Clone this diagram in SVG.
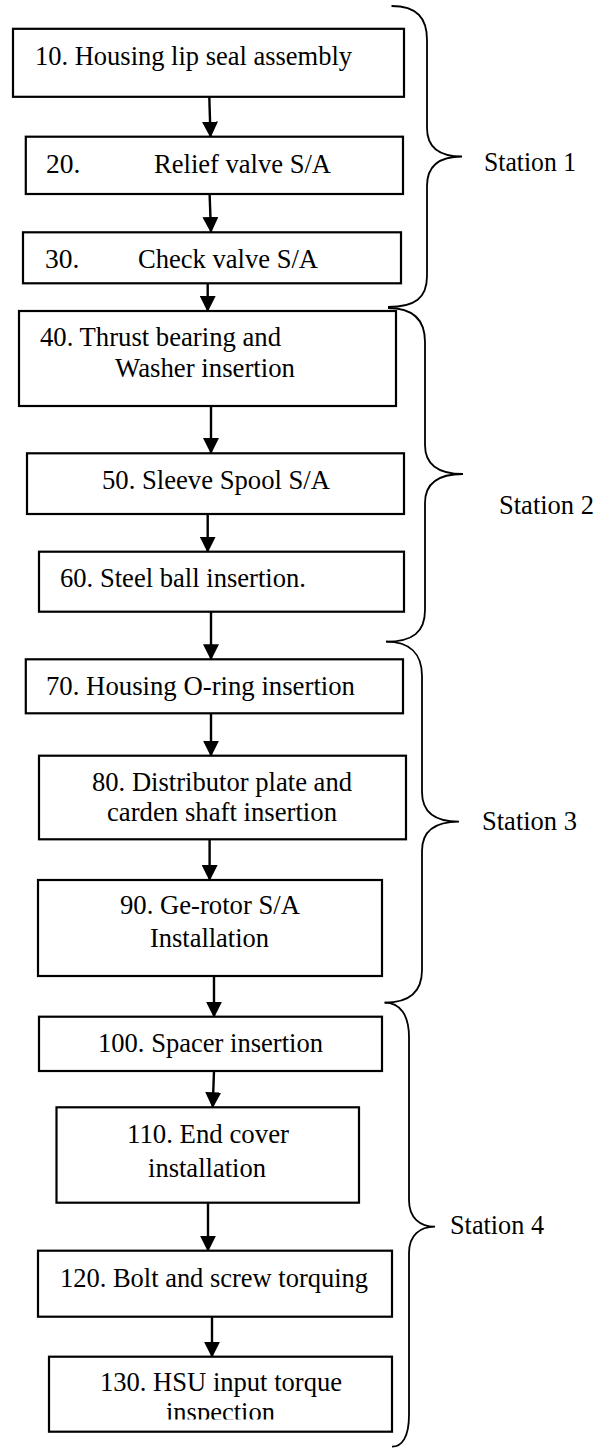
<svg xmlns="http://www.w3.org/2000/svg" width="600" height="1448" viewBox="0 0 600 1448">
<style>
.box{fill:#fff;stroke:#000;stroke-width:2.2}
.t{font-family:"Liberation Serif","Times New Roman",serif;font-size:27.5px;fill:#000}
.c{stroke:#000;stroke-width:2.4;fill:none}
.br{stroke:#000;stroke-width:1.8;fill:none}
</style>
<defs>
<marker id="ah" markerUnits="userSpaceOnUse" markerWidth="16" markerHeight="16" viewBox="0 0 16 16" refX="15" refY="8" orient="auto">
<path d="M0,0 L16,8 L0,16 Z" fill="#000"/>
</marker>
<clipPath id="clip130"><rect x="49" y="1356" width="343" height="63.5"/></clipPath>
</defs>
<rect width="600" height="1448" fill="#fff"/>
<g id="connectors">
<line class="c" x1="209.3" y1="96.7" x2="210.5" y2="136.7" marker-end="url(#ah)"/>
<line class="c" x1="209.6" y1="194" x2="211" y2="232" marker-end="url(#ah)"/>
<line class="c" x1="207.7" y1="283.3" x2="207.7" y2="311" marker-end="url(#ah)"/>
<line class="c" x1="211" y1="406" x2="211" y2="453" marker-end="url(#ah)"/>
<line class="c" x1="207.7" y1="514" x2="207.7" y2="551.7" marker-end="url(#ah)"/>
<line class="c" x1="211" y1="611.7" x2="211" y2="659.3" marker-end="url(#ah)"/>
<line class="c" x1="211" y1="713.3" x2="211" y2="755.7" marker-end="url(#ah)"/>
<line class="c" x1="209.6" y1="839.3" x2="209.6" y2="880" marker-end="url(#ah)"/>
<line class="c" x1="214" y1="976" x2="214" y2="1016.7" marker-end="url(#ah)"/>
<line class="c" x1="214" y1="1071" x2="212.7" y2="1107.3" marker-end="url(#ah)"/>
<line class="c" x1="208" y1="1202.7" x2="208" y2="1250.7" marker-end="url(#ah)"/>
<line class="c" x1="212" y1="1316.7" x2="212" y2="1356.7" marker-end="url(#ah)"/>
</g>
<g id="n10"><rect class="box" x="13" y="28.8" width="391" height="68"/><text class="t" x="35" y="64.5" textLength="317" lengthAdjust="spacingAndGlyphs">10. Housing lip seal assembly</text></g>
<g id="n20"><rect class="box" x="25.8" y="136.7" width="377.2" height="57.3"/><text class="t" x="46" y="173">20.</text><text class="t" x="154" y="173" textLength="177" lengthAdjust="spacingAndGlyphs">Relief valve S/A</text></g>
<g id="n30"><rect class="box" x="23" y="232.3" width="378" height="51"/><text class="t" x="45" y="268">30.</text><text class="t" x="138" y="268" textLength="180" lengthAdjust="spacingAndGlyphs">Check valve S/A</text></g>
<g id="n40"><rect class="box" x="19" y="311" width="377" height="95"/><text class="t" x="40" y="346" textLength="241" lengthAdjust="spacingAndGlyphs">40. Thrust bearing and</text><text class="t" x="115" y="377" textLength="180" lengthAdjust="spacingAndGlyphs">Washer insertion</text></g>
<g id="n50"><rect class="box" x="27" y="453.3" width="377" height="60.7"/><text class="t" x="102" y="488.5" textLength="228" lengthAdjust="spacingAndGlyphs">50. Sleeve Spool S/A</text></g>
<g id="n60"><rect class="box" x="39" y="551.7" width="365" height="60"/><text class="t" x="60" y="587" textLength="246" lengthAdjust="spacingAndGlyphs">60. Steel ball insertion.</text></g>
<g id="n70"><rect class="box" x="25.8" y="659.3" width="377.2" height="54"/><text class="t" x="46" y="694.5" textLength="309" lengthAdjust="spacingAndGlyphs">70. Housing O-ring insertion</text></g>
<g id="n80"><rect class="box" x="39" y="755.7" width="367" height="83.6"/><text class="t" x="92" y="790.5" textLength="260" lengthAdjust="spacingAndGlyphs">80. Distributor plate and</text><text class="t" x="107" y="821" textLength="230" lengthAdjust="spacingAndGlyphs">carden shaft insertion</text></g>
<g id="n90"><rect class="box" x="38" y="880" width="344" height="96"/><text class="t" x="120" y="914" textLength="180" lengthAdjust="spacingAndGlyphs">90. Ge-rotor S/A</text><text class="t" x="150" y="947" textLength="119" lengthAdjust="spacingAndGlyphs">Installation</text></g>
<g id="n100"><rect class="box" x="39" y="1016.7" width="343" height="54.3"/><text class="t" x="98" y="1052" textLength="225" lengthAdjust="spacingAndGlyphs">100. Spacer insertion</text></g>
<g id="n110"><rect class="box" x="56.5" y="1107.3" width="302.5" height="95.4"/><text class="t" x="127" y="1143" textLength="162" lengthAdjust="spacingAndGlyphs">110. End cover</text><text class="t" x="148" y="1177" textLength="118" lengthAdjust="spacingAndGlyphs">installation</text></g>
<g id="n120"><rect class="box" x="38" y="1250.7" width="354" height="66"/><text class="t" x="60" y="1286.5" textLength="308" lengthAdjust="spacingAndGlyphs">120. Bolt and screw torquing</text></g>
<g id="n130"><rect class="box" x="49" y="1356.7" width="343" height="75"/><text class="t" x="100" y="1391" textLength="242" lengthAdjust="spacingAndGlyphs">130. HSU input torque</text><text class="t" x="166" y="1421" textLength="109" lengthAdjust="spacingAndGlyphs" clip-path="url(#clip130)">inspection</text></g>
<g id="station1"><path class="br" d="M391.5,6 C417,6 427,18 427,40 L427,128 C427,148 440,156.5 462,156.5 C440,156.5 427,165 427,186 L427,276 C427,298 415,307 388,307"/><text class="t" x="484" y="171" textLength="92" lengthAdjust="spacingAndGlyphs">Station 1</text></g>
<g id="station2"><path class="br" d="M388,308 C413,308 425,320 425,342 L425,445 C425,465 438,474 463,474 C438,474 425,483 425,503 L425,610 C425,632 413,641.7 386,641.7"/><text class="t" x="499" y="514" textLength="95" lengthAdjust="spacingAndGlyphs">Station 2</text></g>
<g id="station3"><path class="br" d="M386,641.7 C410,641.7 422,654 422,676 L422,792 C422,812 435,821.7 459,821.7 C435,821.7 422,831 422,851 L422,970 C422,992 410,1002.7 384.6,1002.7"/><text class="t" x="482" y="830" textLength="95" lengthAdjust="spacingAndGlyphs">Station 3</text></g>
<g id="station4"><path class="br" d="M384.6,1002.7 C400,1002.7 409,1015 409,1037 L409,1200 C409,1218 420,1226.7 435,1226.7 C420,1226.7 409,1235 409,1253 L409,1415 C409,1437 402,1446.7 392,1446.7"/><text class="t" x="450" y="1234" textLength="94" lengthAdjust="spacingAndGlyphs">Station 4</text></g>
</svg>
